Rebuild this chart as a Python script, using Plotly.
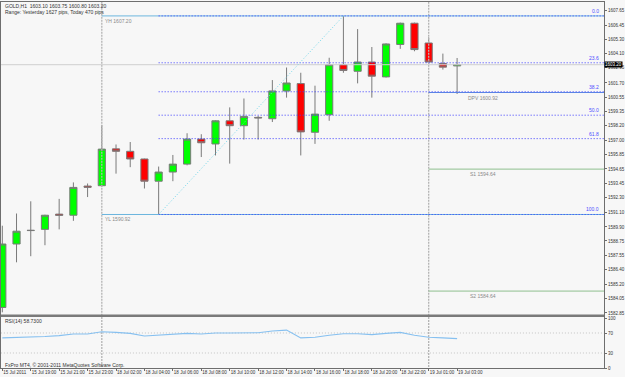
import plotly.graph_objects as go

# ---------------- data ----------------
times = ["15 Jul 17:00", "15 Jul 18:00", "15 Jul 19:00", "15 Jul 20:00", "15 Jul 21:00",
         "15 Jul 22:00", "15 Jul 23:00", "18 Jul 01:00", "18 Jul 02:00", "18 Jul 03:00",
         "18 Jul 04:00", "18 Jul 05:00", "18 Jul 06:00", "18 Jul 07:00", "18 Jul 08:00",
         "18 Jul 09:00", "18 Jul 10:00", "18 Jul 11:00", "18 Jul 12:00", "18 Jul 13:00",
         "18 Jul 14:00", "18 Jul 15:00", "18 Jul 16:00", "18 Jul 17:00", "18 Jul 18:00",
         "18 Jul 19:00", "18 Jul 20:00", "18 Jul 21:00", "18 Jul 22:00", "18 Jul 23:00",
         "19 Jul 01:00", "19 Jul 02:00", "19 Jul 03:00"]
opens = [1583.30, 1588.50, 1589.60, 1589.70, 1590.95, 1590.86, 1593.25, 1593.28, 1596.30, 1596.10,
         1595.47, 1593.65, 1594.40, 1595.05, 1597.10, 1596.70, 1598.60, 1598.20, 1598.88, 1598.77,
         1601.05, 1601.65, 1597.66, 1599.10, 1603.20, 1602.66, 1603.42, 1602.20, 1604.86, 1606.60,
         1604.98, 1603.30, 1603.10]
highs = [1590.00, 1591.00, 1592.00, 1590.90, 1592.20, 1593.55, 1593.46, 1598.24, 1596.66, 1596.86,
         1595.50, 1594.85, 1595.80, 1597.58, 1597.50, 1598.65, 1599.70, 1600.43, 1599.00, 1601.94,
         1602.97, 1602.54, 1601.48, 1603.77, 1607.20, 1606.12, 1604.65, 1604.95, 1606.65, 1606.65,
         1605.44, 1604.11, 1603.75]
lows = [1582.90, 1587.00, 1587.50, 1588.40, 1589.70, 1590.40, 1592.35, 1593.20, 1594.27, 1594.80,
        1593.05, 1590.92, 1593.65, 1594.95, 1595.63, 1595.76, 1595.09, 1597.06, 1597.06, 1598.50,
        1600.50, 1595.76, 1596.71, 1598.60, 1602.54, 1601.67, 1600.50, 1602.15, 1604.50, 1604.30,
        1603.30, 1602.80, 1600.80]
closes = [1588.50, 1589.55, 1589.62, 1590.86, 1590.85, 1593.14, 1593.15, 1596.28, 1596.10, 1595.47,
          1593.65, 1594.40, 1595.05, 1597.10, 1596.80, 1598.60, 1598.20, 1598.96, 1598.84, 1601.05,
          1601.70, 1597.69, 1599.15, 1603.20, 1602.73, 1603.42, 1602.26, 1604.90, 1606.60, 1604.44,
          1603.42, 1603.00, 1603.20]
rsi = [60.2, 61.0, 61.4, 63.0, 64.7, 68.0, 68.0, 72.5, 71.2, 69.3,
       64.0, 65.4, 66.7, 69.3, 68.0, 70.0, 70.0, 70.0, 70.6, 73.9,
       75.8, 60.2, 61.4, 65.4, 68.6, 68.6, 66.7, 69.3, 71.2, 65.4,
       61.4, 60.2, 58.7]

y_high, y_low = 1607.20, 1590.92
pivot_pp, pivot_s1, pivot_s2 = 1600.92, 1594.64, 1584.64
fib_levels = [0.0, 23.6, 38.2, 50.0, 61.8, 100.0]
fib_start_bar, fib_end_bar = 11, 24
day_start_bars = [7, 30]
last_price = 1603.20

price_ticks = [1607.65, 1606.45, 1605.30, 1604.10, 1602.95, 1601.70, 1600.55, 1599.35, 1598.20,
               1597.00, 1595.85, 1594.65, 1593.45, 1592.30, 1591.10, 1589.90, 1588.75, 1587.55,
               1586.40, 1585.20, 1584.05, 1582.85]
time_tick_bars = [0, 2, 4, 6, 8, 10, 12, 14, 16, 18, 20, 22, 24, 26, 28, 30, 32]
time_tick_text = ["15 Jul 2011", "15 Jul 19:00", "15 Jul 21:00", "15 Jul 23:00", "18 Jul 02:00",
                  "18 Jul 04:00", "18 Jul 06:00", "18 Jul 08:00", "18 Jul 10:00", "18 Jul 12:00",
                  "18 Jul 14:00", "18 Jul 16:00", "18 Jul 18:00", "18 Jul 20:00", "18 Jul 22:00",
                  "19 Jul 01:00", "19 Jul 03:00"]

idx = list(range(len(times)))
X0, X1 = -0.093, 42.336
XR = 45
FONT = "Liberation Sans"
BG = "#f7f7f7"
AXC = "#6e6e6e"
FINE_DOT = "1px,2px"

fig = go.Figure()

# day separators
for b in day_start_bars:
    fig.add_trace(go.Scatter(x=[b, b], y=[1575, 1615], mode="lines", xaxis="x", yaxis="y",
                             line=dict(color="#b4b4b4", width=1.3, dash="2px,1px"),
                             showlegend=False, hoverinfo="skip"))
    fig.add_trace(go.Scatter(x=[b, b], y=[-10, 110], mode="lines", xaxis="x2", yaxis="y2",
                             line=dict(color="#b4b4b4", width=1.3, dash="2px,1px"),
                             showlegend=False, hoverinfo="skip"))

# current price line
fig.add_trace(go.Scatter(x=[-2, XR], y=[last_price, last_price], mode="lines",
                         line=dict(color="#cfcfcf", width=1), showlegend=False, hoverinfo="skip"))

# yesterday high / low
for p in (y_high, y_low):
    fig.add_trace(go.Scatter(x=[day_start_bars[0], XR], y=[p, p], mode="lines",
                             line=dict(color="#6cb6de", width=1), showlegend=False, hoverinfo="skip"))

# fibo levels
rng = y_high - y_low
for lv in fib_levels:
    p = y_high - lv / 100.0 * rng
    fig.add_trace(go.Scatter(x=[fib_start_bar, XR], y=[p, p], mode="lines",
                             line=dict(color="#3c3cff", width=1, dash=FINE_DOT),
                             showlegend=False, hoverinfo="skip"))
# fibo trend line
fig.add_trace(go.Scatter(x=[fib_start_bar, fib_end_bar], y=[y_low, y_high], mode="lines",
                         line=dict(color="#6fd6ea", width=1, dash=FINE_DOT),
                         showlegend=False, hoverinfo="skip"))

# pivots
fig.add_trace(go.Scatter(x=[day_start_bars[1], XR], y=[pivot_pp, pivot_pp], mode="lines",
                         line=dict(color="#5a82e6", width=1), showlegend=False, hoverinfo="skip"))
for p in (pivot_s1, pivot_s2):
    fig.add_trace(go.Scatter(x=[day_start_bars[1], XR], y=[p, p], mode="lines",
                             line=dict(color="#8fbf8f", width=1), showlegend=False, hoverinfo="skip"))

# candles
fig.add_trace(go.Candlestick(
    x=idx, open=opens, high=highs, low=lows, close=closes, xaxis="x", yaxis="y",
    increasing=dict(fillcolor="#00ff00", line=dict(color="#7a7a7a", width=1)),
    decreasing=dict(fillcolor="#ff0000", line=dict(color="#7a7a7a", width=1)),
    whiskerwidth=0, showlegend=False, hoverinfo="skip"))

# RSI
for lvl in (70, 30):
    fig.add_trace(go.Scatter(x=[-2, XR], y=[lvl, lvl], mode="lines", xaxis="x2", yaxis="y2",
                             line=dict(color="#c4c4c4", width=1, dash=FINE_DOT),
                             showlegend=False, hoverinfo="skip"))
fig.add_trace(go.Scatter(x=idx, y=rsi, mode="lines", xaxis="x2", yaxis="y2",
                         line=dict(color="#86c0f0", width=1.1), showlegend=False, hoverinfo="skip"))

small = dict(family=FONT, size=5, color="#333333")
gray = dict(family=FONT, size=5, color="#8a8a8a")
ann = []
ann.append(dict(x=0.004, y=(368 - 6) / 366, xref="paper", yref="paper", xanchor="left", yanchor="middle",
                text="GOLD,H1  1603.10 1603.75 1600.80 1603.20", showarrow=False, font=small))
ann.append(dict(x=0.004, y=(368 - 12.5) / 366, xref="paper", yref="paper", xanchor="left", yanchor="middle",
                text="Range: Yesterday 1627 pips, Today 470 pips", showarrow=False, font=small))
ann.append(dict(x=day_start_bars[0] + 0.05, y=y_high, xref="x", yref="y", xanchor="left", yanchor="top",
                text="YH 1607.20", showarrow=False, font=gray))
ann.append(dict(x=day_start_bars[0] + 0.05, y=y_low, xref="x", yref="y", xanchor="left", yanchor="top",
                text="YL 1590.92", showarrow=False, font=gray))
for lv in fib_levels:
    p = y_high - lv / 100.0 * rng
    ann.append(dict(x=0.995, y=p, xref="paper", yref="y", xanchor="right", yanchor="bottom",
                    text=("%.1f" % lv), showarrow=False, font=dict(family=FONT, size=5, color="#4d4dff")))
for p, t in ((pivot_pp, "DPV 1600.92"), (pivot_s1, "S1 1594.64"), (pivot_s2, "S2 1584.64")):
    ann.append(dict(x=33.8, y=p, xref="x", yref="y", xanchor="center", yanchor="top",
                    text=t, showarrow=False, font=gray))
ann.append(dict(x=1.0, y=last_price, xref="paper", yref="y", xanchor="left", yanchor="middle",
                text="1603.20", showarrow=False, bgcolor="#000000", borderpad=0,
                font=dict(family=FONT, size=4.5, color="#ffffff")))
ann.append(dict(x=0.004, y=(368 - 320.5) / 366, xref="paper", yref="paper", xanchor="left", yanchor="middle",
                text="RSI(14) 58.7300", showarrow=False, font=small))
ann.append(dict(x=0.004, y=(368 - 364.5) / 366, xref="paper", yref="paper", xanchor="left", yanchor="middle",
                text="FxPro MT4, © 2001-2011 MetaQuotes Software Corp.", showarrow=False, font=small))

tickfont = dict(family=FONT, size=4.5, color="#333333")
fig.update_layout(
    width=625, height=377, margin=dict(l=0, r=17, t=2, b=9),
    paper_bgcolor=BG, plot_bgcolor=BG, showlegend=False, boxgap=0.28,
    annotations=ann,
    xaxis=dict(domain=[0, 1], range=[X0, X1], anchor="y", showticklabels=False, ticks="",
               showgrid=False, zeroline=False, showline=True, mirror=True, linecolor=AXC, linewidth=1,
               rangeslider=dict(visible=False)),
    xaxis2=dict(domain=[0, 1], range=[X0, X1], anchor="y2", matches="x", showgrid=False, zeroline=False,
                showline=True, mirror=True, linecolor=AXC, linewidth=1,
                tickvals=time_tick_bars, ticktext=time_tick_text, ticks="outside", ticklen=2,
                tickcolor=AXC, ticklabelposition="outside right", tickfont=tickfont, tickangle=0),
    yaxis=dict(domain=[(368 - 315) / 366, 1], range=[1582.68, 1608.34], side="right", anchor="x",
               showgrid=False, zeroline=False, showline=True, mirror=True, linecolor=AXC, linewidth=1,
               tickvals=price_ticks, ticktext=["%.2f" % v for v in price_ticks], ticks="outside",
               ticklen=2, tickcolor=AXC, tickfont=tickfont),
    yaxis2=dict(domain=[0, (368 - 317) / 366], range=[0, 102], side="right", anchor="x2",
                showgrid=False, zeroline=False, showline=True, mirror=True, linecolor=AXC, linewidth=1,
                tickvals=[0, 30, 70, 100], ticktext=["0", "30", "70", "100"], ticks="outside",
                ticklen=2, tickcolor=AXC, tickfont=tickfont),
    shapes=[dict(type="rect", xref="paper", yref="paper", x0=0, x1=1,
                 y0=(368 - 317) / 366, y1=(368 - 314.5) / 366, fillcolor="#7a7a7a", line=dict(width=0))],
)

fig.write_html("out.html")
